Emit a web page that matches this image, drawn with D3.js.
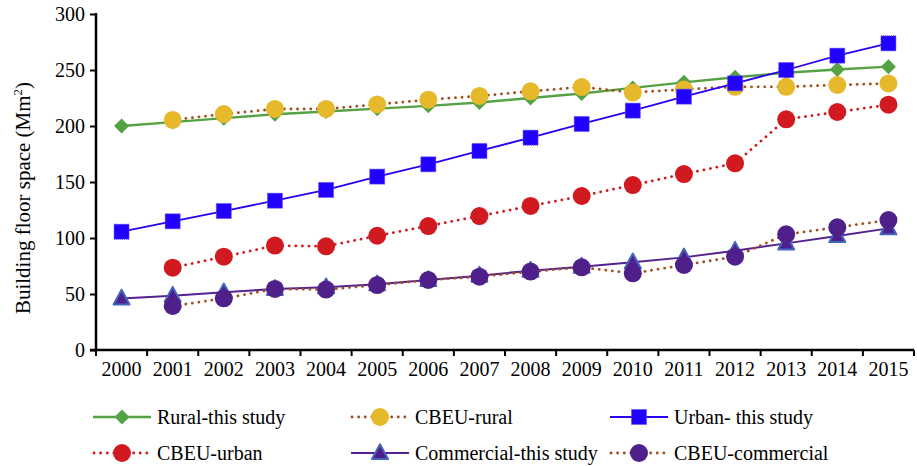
<!DOCTYPE html>
<html><head><meta charset="utf-8">
<script src="https://cdn.jsdelivr.net/npm/d3@7"></script>
<style>body{margin:0;background:#fff}svg{display:block}text{font-family:"Liberation Serif","Times New Roman",serif;fill:#000}</style>
</head><body><svg id="c" width="917" height="466"></svg>
<script>
const years = ["2000","2001","2002","2003","2004","2005","2006","2007","2008","2009","2010","2011","2012","2013","2014","2015"];
const yTicks = [0,50,100,150,200,250,300];
const ruralThis = [200,203.5,207,210.5,213,215.5,218,221,225,229,234,239,243.5,247.5,250.5,253];
const cbeuRural = [null,205.4,210.7,215.2,215.2,219.3,223.5,226.8,231,234.8,230,232.7,235,235,236.6,238];
const urbanThis = [105.6,114.9,124.1,133.3,142.9,154.8,165.8,177.7,189.6,201.8,213.7,226.2,238.1,250,262.8,273.8];
const cbeuUrban = [null,73.5,83.3,93.2,92.6,102,110.7,119.6,128.6,137.5,147.3,157.1,166.7,206,212.5,219];
const commThis = [46,48.5,51.5,54.5,56,58.6,62.5,66.4,70.8,74.4,78.3,82.7,88.7,95.2,101.8,108.6];
const cbeuComm = [null,39.3,46.1,54.5,54,58,62.5,65.5,70,73.8,68.5,75.9,83.3,103.3,109.5,116];
const seriesNames = ["Rural-this study","CBEU-rural","Urban- this study","CBEU-urban","Commercial-this study","CBEU-commercial"];

const series = [
  {name:seriesNames[0], data:ruralThis, line:"#55a244", dash:false, marker:"diamond", fill:"#55a244", stroke:"#55a244", w:2.4},
  {name:seriesNames[1], data:cbeuRural, line:"#a0501f", dash:true, marker:"circle", fill:"#e6b82b", stroke:"#e6b82b", w:2.8},
  {name:seriesNames[2], data:urbanThis, line:"#2a00f5", dash:false, marker:"square", fill:"#2200ff", stroke:"#5a4aff", w:1.8},
  {name:seriesNames[3], data:cbeuUrban, line:"#d01a20", dash:true, marker:"circle", fill:"#d01a20", stroke:"#d01a20", w:2.8},
  {name:seriesNames[4], data:commThis, line:"#55208f", dash:false, marker:"triangle", fill:"#4f1f8c", stroke:"#4566bd", w:2},
  {name:seriesNames[5], data:cbeuComm, line:"#a0501f", dash:true, marker:"circle", fill:"#50208a", stroke:"#50208a", w:2.8}
];

const svg = d3.select("#c");
const m = {l:96, r:914, t:14, b:350};
const x = d3.scaleBand().domain(years).range([m.l, m.r]);
const y = d3.scaleLinear().domain([0,300]).range([m.b, m.t]);

const yAxis = svg.append("g").attr("transform",`translate(${m.l},0)`)
  .call(d3.axisLeft(y).tickValues(yTicks).tickSize(6).tickPadding(5));
yAxis.select(".domain").attr("stroke","#000").attr("stroke-width",2.5).attr("d",`M0,${m.t-1}V${m.b}`);
yAxis.selectAll(".tick line").attr("stroke","#000").attr("stroke-width",2);
yAxis.selectAll(".tick text").style("font-size","20px").attr("dy","0.34em");

const xAxis = svg.append("g").attr("transform",`translate(0,${m.b})`)
  .call(d3.axisBottom(x).tickSize(0).tickPadding(12));
xAxis.select(".domain").attr("stroke","#000").attr("stroke-width",2.5).attr("d",`M${m.l-6},0H${m.r}`);
xAxis.selectAll(".tick text").style("font-size","20px");
const bounds = years.map(d=>x(d)).concat([m.r]);
svg.append("g").selectAll("line").data(bounds).join("line")
  .attr("x1",d=>d).attr("x2",d=>d).attr("y1",m.b).attr("y2",m.b+6)
  .attr("stroke","#000").attr("stroke-width",2);

svg.append("text").attr("transform",`translate(30,198) rotate(-90)`)
  .attr("text-anchor","middle").style("font-size","21px")
  .html('Building floor space (Mm<tspan dy="-8" style="font-size:13px">2</tspan><tspan dy="8">)</tspan>');

const cx = d => x(d)+x.bandwidth()/2;

function drawMarker(g, type, px, py, s) {
  if (type==="diamond") {
    g.append("path").attr("d",`M${px},${py-s.r}L${px+s.r},${py}L${px},${py+s.r}L${px-s.r},${py}Z`).attr("fill",s.fill);
  } else if (type==="circle") {
    g.append("circle").attr("cx",px).attr("cy",py).attr("r",s.r).attr("fill",s.fill);
  } else if (type==="square") {
    g.append("rect").attr("x",px-s.r).attr("y",py-s.r).attr("width",2*s.r).attr("height",2*s.r)
      .attr("fill",s.fill).attr("stroke",s.stroke).attr("stroke-width",1).attr("stroke-dasharray","1,1");
  } else if (type==="triangle") {
    g.append("path").attr("d",`M${px},${py-s.r*1.1}L${px+s.r},${py+s.r*0.75}L${px-s.r},${py+s.r*0.75}Z`)
      .attr("fill",s.fill).attr("stroke",s.stroke).attr("stroke-width",2).attr("stroke-linejoin","round");
  }
}
const markerR = {diamond:7.5, circle:9, square:7.5, triangle:8};

const plot = svg.append("g");
series.forEach(s=>{
  const pts = years.map((yr,i)=>({yr, v:s.data[i]})).filter(p=>p.v!=null);
  const line = d3.line().x(p=>cx(p.yr)).y(p=>y(p.v));
  const p = plot.append("path").attr("d",line(pts)).attr("fill","none")
    .attr("stroke",s.line).attr("stroke-width",s.w);
  if (s.dash) p.attr("stroke-dasharray","0.1,6.5").attr("stroke-linecap","round");
  const g = plot.append("g");
  pts.forEach(pt=>drawMarker(g, s.marker, cx(pt.yr), y(pt.v), {fill:s.fill, stroke:s.stroke, r:markerR[s.marker]}));
});

const legCols = [93, 351, 610];
const legRows = [417, 453];
series.forEach((s,i)=>{
  const lx = legCols[i%3], ly = legRows[Math.floor(i/3)];
  const g = svg.append("g");
  const l = g.append("line").attr("x1",lx).attr("x2",lx+58).attr("y1",ly).attr("y2",ly)
    .attr("stroke",s.line).attr("stroke-width",s.w);
  if (s.dash) l.attr("stroke-dasharray","0.1,6.5").attr("stroke-linecap","round").attr("x1",lx+1);
  drawMarker(g, s.marker, lx+29, ly, {fill:s.fill, stroke:s.stroke, r:markerR[s.marker]});
  g.append("text").attr("x",lx+64).attr("y",ly).attr("dy","0.35em").style("font-size","20px").text(s.name);
});
</script></body></html>
